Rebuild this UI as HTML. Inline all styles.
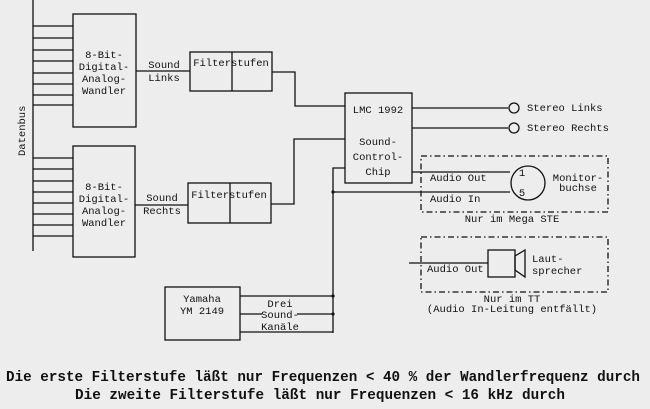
<!DOCTYPE html>
<html><head><meta charset="utf-8"><style>
html,body{margin:0;padding:0;background:#ededed;}
svg{display:block}
text{font-family:"Liberation Mono",monospace;fill:#111;}
.s{font-size:10.5px;}
.b{font-size:15px;font-weight:bold;}
</style></head><body>
<svg width="650" height="409" viewBox="0 0 650 409" xmlns="http://www.w3.org/2000/svg">
<rect width="650" height="409" fill="#ededed"/>
<g stroke="#111" stroke-width="1.3" fill="none">
<line x1="33" y1="0" x2="33" y2="251"/>
<path d="M33 26H73M33 38H73M33 50H73M33 61H73M33 73H73M33 84H73M33 95H73M33 105H73"/>
<path d="M33 158H73M33 169H73M33 181H73M33 192H73M33 203H73M33 214H73M33 225H73M33 236H73"/>
<rect x="73" y="14" width="63" height="113"/>
<rect x="73" y="146" width="62" height="111"/>
<line x1="136" y1="71" x2="190" y2="71"/>
<line x1="135" y1="205" x2="188" y2="205"/>
<rect x="190" y="52" width="82" height="39"/>
<line x1="232" y1="52" x2="232" y2="91"/>
<rect x="188" y="183" width="83" height="40"/>
<line x1="230" y1="183" x2="230" y2="223"/>
<path d="M272 72H295V106H345"/>
<path d="M271 204H294V139H345"/>
<rect x="345" y="93" width="67" height="90"/>
<line x1="412" y1="108" x2="508" y2="108"/>
<line x1="412" y1="128" x2="508" y2="128"/>
<circle cx="514" cy="108" r="5"/>
<circle cx="514" cy="128" r="5"/>
<path d="M345 168H333V333"/>
<line x1="412" y1="172" x2="510" y2="172"/>
<line x1="333" y1="192" x2="510" y2="192"/>
<circle cx="528" cy="183" r="17"/>
<rect x="421" y="156" width="187" height="56" stroke-dasharray="6,3,1.5,3"/>
<rect x="421" y="237" width="187" height="55" stroke-dasharray="6,3,1.5,3"/>
<line x1="409" y1="263" x2="488" y2="263"/>
<rect x="488" y="250" width="27" height="27"/>
<path d="M515 256L525 250V277L515 270Z"/>
<rect x="165" y="287" width="75" height="53"/>
<line x1="240" y1="296" x2="333" y2="296"/>
<line x1="240" y1="314" x2="262" y2="314"/>
<line x1="297" y1="314" x2="333" y2="314"/>
<line x1="240" y1="332" x2="333" y2="332"/>
</g>
<g fill="#111"><circle cx="333" cy="192" r="1.6"/><circle cx="333" cy="296" r="1.6"/><circle cx="333" cy="314" r="1.6"/></g>
<g class="s" text-anchor="middle">
<text x="104" y="58">8-Bit-</text><text x="104" y="70">Digital-</text><text x="104" y="82">Analog-</text><text x="104" y="94">Wandler</text>
<text x="104" y="190">8-Bit-</text><text x="104" y="202">Digital-</text><text x="104" y="214">Analog-</text><text x="104" y="226">Wandler</text>
<text x="164" y="68">Sound</text><text x="164" y="81">Links</text>
<text x="162" y="201">Sound</text><text x="162" y="214">Rechts</text>
<text x="231" y="66">Filterstufen</text>
<text x="229" y="198">Filterstufen</text>
<text x="378" y="113">LMC 1992</text>
<text x="378" y="145">Sound-</text><text x="378" y="160">Control-</text><text x="378" y="175">Chip</text>
<text x="522" y="176">1</text><text x="522" y="196">5</text>
<text x="578" y="181">Monitor-</text><text x="578" y="191">buchse</text>
<text x="512" y="222">Nur im Mega STE</text>
<text x="512" y="302">Nur im TT</text>
<text x="512" y="312">(Audio In-Leitung entfällt)</text>
<text x="202" y="302">Yamaha</text><text x="202" y="314">YM 2149</text>
<text x="280" y="307">Drei</text><text x="280" y="318">Sound-</text><text x="280" y="330">Kanäle</text>
</g>
<g class="s">
<text x="527" y="111">Stereo Links</text>
<text x="527" y="131">Stereo Rechts</text>
<text x="430" y="181">Audio Out</text>
<text x="430" y="202">Audio In</text>
<text x="427" y="272">Audio Out</text>
<text x="532" y="262">Laut-</text>
<text x="532" y="274">sprecher</text>
<text transform="translate(25,156) rotate(-90)">Datenbus</text>
</g>
<g class="b">
<text x="6" y="381" textLength="634" lengthAdjust="spacingAndGlyphs">Die erste Filterstufe läßt nur Frequenzen &lt; 40 % der Wandlerfrequenz durch</text>
<text x="75" y="399" textLength="490" lengthAdjust="spacingAndGlyphs">Die zweite Filterstufe läßt nur Frequenzen &lt; 16 kHz durch</text>
</g>
</svg>
</body></html>
